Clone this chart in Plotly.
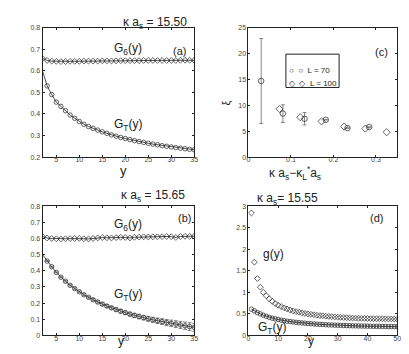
import plotly.graph_objects as go

# ---------------- data ----------------
# panel (a)  kappa a_s = 15.50
ya = list(range(2, 36))
g6_a = [0.658, 0.648, 0.645, 0.644, 0.643, 0.643, 0.644, 0.644, 0.644, 0.645,
        0.645, 0.645, 0.645, 0.646, 0.646, 0.646, 0.646, 0.647, 0.647, 0.647,
        0.647, 0.647, 0.648, 0.648, 0.648, 0.648, 0.648, 0.648, 0.648, 0.648,
        0.649, 0.649, 0.649, 0.649]
gt_a = [0.600, 0.530, 0.490, 0.455, 0.435, 0.415, 0.395, 0.380, 0.365, 0.352,
        0.342, 0.333, 0.325, 0.317, 0.310, 0.303, 0.297, 0.291, 0.286, 0.281,
        0.276, 0.272, 0.268, 0.264, 0.260, 0.257, 0.253, 0.250, 0.247, 0.244,
        0.241, 0.239, 0.236, 0.234]

# panel (b)  kappa a_s = 15.65
yb = list(range(2, 36))
g6_b = [0.612, 0.603, 0.600, 0.598, 0.597, 0.598, 0.599, 0.600, 0.600, 0.598,
        0.597, 0.600, 0.603, 0.605, 0.604, 0.603, 0.605, 0.607, 0.606, 0.603,
        0.607, 0.608, 0.610, 0.609, 0.610, 0.610, 0.611, 0.612, 0.611, 0.606,
        0.612, 0.613, 0.613, 0.614]
gt_b = [0.500, 0.460, 0.425, 0.390, 0.360, 0.335, 0.310, 0.290, 0.270, 0.252,
        0.236, 0.221, 0.207, 0.194, 0.182, 0.171, 0.160, 0.150, 0.141, 0.132,
        0.124, 0.117, 0.110, 0.103, 0.097, 0.091, 0.086, 0.080, 0.075, 0.070,
        0.065, 0.060, 0.055, 0.050]
gt_b_err = [0.002, 0.002, 0.003, 0.003, 0.003, 0.004, 0.004, 0.005, 0.005, 0.006,
            0.006, 0.007, 0.007, 0.008, 0.009, 0.009, 0.010, 0.011, 0.011, 0.012,
            0.013, 0.014, 0.014, 0.015, 0.016, 0.017, 0.018, 0.019, 0.020, 0.021,
            0.022, 0.023, 0.024, 0.025]

# panel (c)  correlation length xi
dk_70 = [0.030, 0.081, 0.132, 0.182, 0.233, 0.284]
xi_70 = [14.7, 8.4, 7.4, 7.2, 5.6, 5.8]
xi_70_err = [8.2, 1.7, 1.2, 0.0, 0.0, 0.0]
dk_100 = [0.073, 0.122, 0.172, 0.225, 0.275, 0.325]
xi_100 = [9.3, 7.7, 6.9, 5.9, 5.5, 4.8]
legend_labels = ["L = 70", "L = 100"]

# panel (d)  kappa a_s = 15.55
yd = list(range(1, 51))
g_d = [2.84, 1.70, 1.32, 1.12, 1.00, 0.92, 0.85, 0.79, 0.74, 0.70,
       0.67, 0.64, 0.615, 0.59, 0.57, 0.555, 0.54, 0.525, 0.51, 0.50,
       0.49, 0.48, 0.47, 0.462, 0.455, 0.448, 0.442, 0.436, 0.43, 0.425,
       0.42, 0.416, 0.412, 0.408, 0.405, 0.402, 0.399, 0.397, 0.395, 0.393,
       0.391, 0.389, 0.388, 0.387, 0.386, 0.385, 0.384, 0.383, 0.382, 0.381]
gt_d = [0.61, 0.57, 0.53, 0.50, 0.47, 0.445, 0.42, 0.40, 0.385, 0.37,
        0.355, 0.343, 0.332, 0.322, 0.313, 0.305, 0.297, 0.29, 0.284, 0.278,
        0.272, 0.267, 0.262, 0.258, 0.254, 0.25, 0.246, 0.243, 0.24, 0.237,
        0.234, 0.231, 0.229, 0.227, 0.225, 0.223, 0.221, 0.219, 0.217, 0.216,
        0.214, 0.213, 0.212, 0.211, 0.21, 0.209, 0.208, 0.207, 0.206, 0.205]

# ---------------- figure ----------------
FONT = "Liberation Sans, Arial, sans-serif"
BLK = "#222"
fig = go.Figure()

def mk(sym, size=4.5):
    return dict(symbol=sym, size=size, color=BLK, line=dict(color=BLK, width=0.7))

# (a)
fig.add_trace(go.Scatter(x=ya, y=g6_a, mode="lines+markers", line=dict(color=BLK, width=0.8),
                         marker=mk("diamond-open"), xaxis="x", yaxis="y", showlegend=False))
fig.add_trace(go.Scatter(x=ya, y=gt_a, mode="lines", line=dict(color=BLK, width=0.8),
                         xaxis="x", yaxis="y", showlegend=False))
fig.add_trace(go.Scatter(x=ya[1:], y=gt_a[1:], mode="markers", marker=mk("circle-open"),
                         xaxis="x", yaxis="y", showlegend=False))
# (b)
fig.add_trace(go.Scatter(x=yb, y=g6_b, mode="lines+markers", line=dict(color=BLK, width=0.8),
                         marker=mk("diamond-open"), xaxis="x3", yaxis="y3", showlegend=False))
fig.add_trace(go.Scatter(x=yb, y=gt_b, mode="lines", line=dict(color=BLK, width=0.8),
                         xaxis="x3", yaxis="y3", showlegend=False))
fig.add_trace(go.Scatter(x=yb[1:], y=gt_b[1:], mode="markers", marker=mk("circle-open"),
                         error_y=dict(type="data", array=gt_b_err[1:], color="#555",
                                      thickness=0.7, width=2),
                         xaxis="x3", yaxis="y3", showlegend=False))
# (c)
fig.add_trace(go.Scatter(x=dk_70, y=xi_70, mode="markers", name=legend_labels[0],
                         marker=mk("circle-open", 5.5),
                         error_y=dict(type="data", array=xi_70_err, color="#555",
                                      thickness=0.7, width=2),
                         xaxis="x2", yaxis="y2", showlegend=False))
fig.add_trace(go.Scatter(x=dk_100, y=xi_100, mode="markers", name=legend_labels[1],
                         marker=mk("diamond-open", 5.5), xaxis="x2", yaxis="y2",
                         showlegend=False))
# (d)
fig.add_trace(go.Scatter(x=yd, y=g_d, mode="markers", marker=mk("diamond-open"),
                         xaxis="x4", yaxis="y4", showlegend=False))
fig.add_trace(go.Scatter(x=yd, y=gt_d, mode="lines+markers", line=dict(color=BLK, width=0.8),
                         marker=mk("circle-open"), xaxis="x4", yaxis="y4", showlegend=False))

def ax(domain, rng, tickvals, anchor, **kw):
    d = dict(domain=domain, range=rng, tickvals=tickvals, anchor=anchor,
             showline=True, linecolor=BLK, linewidth=1, mirror="ticks",
             ticks="inside", ticklen=2, tickcolor=BLK, showgrid=False, zeroline=False,
             tickfont=dict(size=7, color="#444", family=FONT))
    d.update(kw)
    return d

XL = [33/409, 187/409]
XR = [242/409, 393/409]
YT = [1-148/354, 1-16/354]
YB = [1-330/354, 1-198/354]

fig.update_layout(
    width=409, height=354,
    margin=dict(l=0, r=0, t=0, b=0),
    paper_bgcolor="white", plot_bgcolor="white",
    font=dict(family=FONT, color=BLK),
    xaxis=ax(XL, [2, 35], [5, 10, 15, 20, 25, 30, 35], "y", ticklabelstandoff=-4),
    yaxis=ax(YT, [0.2, 0.8], [0.2, 0.3, 0.4, 0.5, 0.6, 0.7, 0.8], "x"),
    xaxis2=ax(XR, [0, 0.35], [0, 0.1, 0.2, 0.3], "y2", ticklabelstandoff=-4),
    yaxis2=ax(YT, [0, 25], [0, 5, 10, 15, 20, 25], "x2"),
    xaxis3=ax(XL, [2, 35], [5, 10, 15, 20, 25, 30, 35], "y3", ticklabelstandoff=-4),
    yaxis3=ax(YB, [0, 0.8], [0, 0.1, 0.2, 0.3, 0.4, 0.5, 0.6, 0.7, 0.8], "x3"),
    xaxis4=ax(XR, [0, 50], [0, 10, 20, 30, 40, 50], "y4", ticklabelstandoff=-4),
    yaxis4=ax(YB, [0, 3], [0, 0.5, 1, 1.5, 2, 2.5, 3], "x4"),
)

def txt(x, y, s, size=11, xref="paper", yref="paper", **kw):
    fig.add_annotation(x=x, y=y, xref=xref, yref=yref, text=s, showarrow=False,
                       font=dict(size=size, family=FONT, color=BLK), **kw)

P = lambda px: px/409
Q = lambda py: 1-py/354
# legend box for panel (c)
fig.add_shape(type="rect", xref="paper", yref="paper",
              x0=P(280), x1=P(334), y0=Q(77), y1=Q(43),
              line=dict(color=BLK, width=1), fillcolor="white", layer="above")
txt(P(281), Q(53), "○  ○  " + legend_labels[0], size=8, xanchor="left")
txt(P(281), Q(66), "◇  ◇  " + legend_labels[1], size=8, xanchor="left")
# titles
txt(P(113), Q(1), "κ a<sub>s</sub> = 15.50", size=12, yanchor="top")
txt(P(111), Q(178), "κ a<sub>s</sub> = 15.65", size=12, yanchor="top")
txt(P(315), Q(181), "κ a<sub>s</sub>= 15.55", size=12, yanchor="top")
# panel tags
txt(P(172), Q(32), "(a)", size=11)
txt(P(386), Q(33), "(c)", size=11)
txt(P(177), Q(210), "(b)", size=11)
txt(P(381), Q(210), "(d)", size=11)
# curve labels
txt(20.5, 0.70, "G<sub>6</sub>(y)", xref="x", yref="y", size=12)
txt(20.5, 0.35, "G<sub>T</sub>(y)", xref="x", yref="y", size=12)
txt(20.5, 0.685, "G<sub>6</sub>(y)", xref="x3", yref="y3", size=12)
txt(20.5, 0.25, "G<sub>T</sub>(y)", xref="x3", yref="y3", size=12)
txt(8.5, 1.9, "g(y)", xref="x4", yref="y4", size=12)
txt(8.0, 0.18, "G<sub>T</sub>(y)", xref="x4", yref="y4", size=12)
# axis labels
txt(P(110), Q(162), "y", size=13)
txt(P(108), Q(345), "y", size=12)
txt(P(311), Q(345), "y", size=12)
txt(P(318), Q(164), "κ a<sub>s</sub>−κ<sub>L</sub><sup>*</sup>a<sub>s</sub>", size=12)
txt(P(219), Q(88), "ξ", size=11, textangle=-90)

fig.write_html("out.html")
